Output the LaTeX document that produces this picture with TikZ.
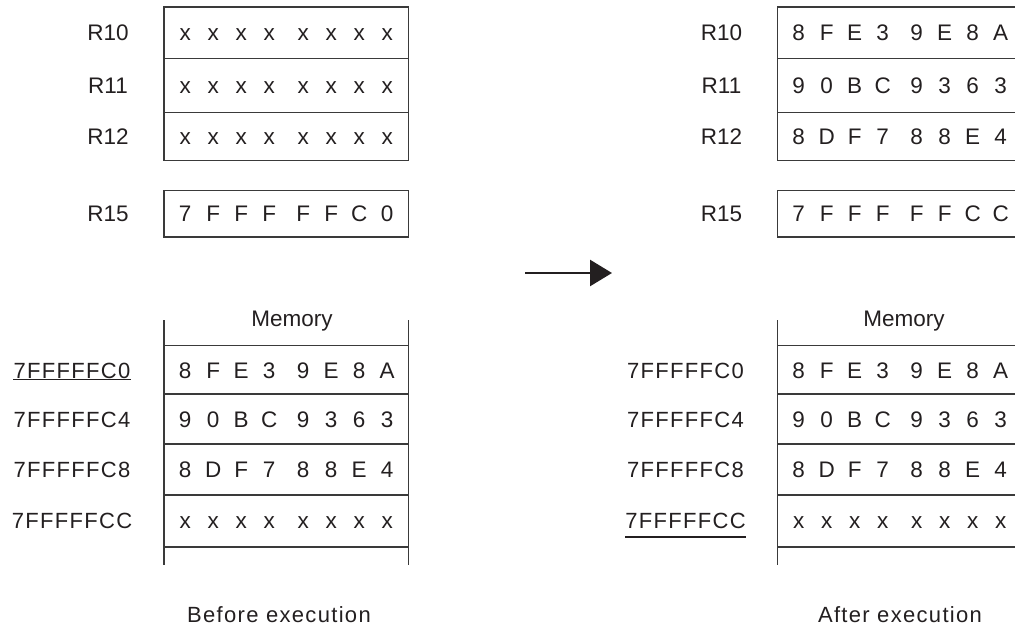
\documentclass[tikz,border=0pt]{standalone}
\usepackage{fontspec}
\setmainfont{Liberation Sans}
\newfontfamily\spacedfont[LetterSpace=6]{Liberation Sans}
\usetikzlibrary{arrows.meta}
\definecolor{ink}{HTML}{231F20}
\definecolor{rulecol}{HTML}{3A3A3A}
\newcommand\hc[1]{\makebox[28pt]{#1}}
\newcommand\hexcells[8]{\hc{#1}\hc{#2}\hc{#3}\hc{#4}\hspace{6pt}\hc{#5}\hc{#6}\hc{#7}\hc{#8}}
\begin{document}
\begin{tikzpicture}[x=1pt,y=-1pt,
  every node/.style={font=\fontsize{22.5}{26}\selectfont, text=ink, inner sep=0pt, text height=16pt, text depth=0pt},
  regcell/.style={draw=rulecol, line width=1.2pt, minimum width=244.5pt},
  memcell/.style={minimum width=244.5pt},
  memline/.style={draw=rulecol, line width=1.4pt},
  addr/.style={font=\spacedfont\fontsize{22}{26}\selectfont},
  caption/.style={font=\spacedfont\fontsize{22}{26}\selectfont},
  uline/.style={draw=ink, line width=1.2pt},
  bigarrow/.style={draw=ink, line width=2.6pt, -{Triangle[length=22pt,width=26pt]}}]
\useasboundingbox (0,0) rectangle (1015,631);

% ---------------- Before execution ----------------
\node (lr10) at (108,32.9) {R10};
\node (lr11) at (108,85.5) {R11};
\node (lr12) at (108,136.5) {R12};
\node (lr15) at (108,213.9) {R15};
\node[regcell, minimum height=51.7pt] (lc10) at (286.2,32.9) {\hexcells{x}{x}{x}{x}{x}{x}{x}{x}};
\node[regcell, minimum height=53.6pt] (lc11) at (286.2,85.5) {\hexcells{x}{x}{x}{x}{x}{x}{x}{x}};
\node[regcell, minimum height=48.4pt] (lc12) at (286.2,136.5) {\hexcells{x}{x}{x}{x}{x}{x}{x}{x}};
\node[regcell, minimum height=46.3pt] (lc15) at (286.2,213.9) {\hexcells{7}{F}{F}{F}{F}{F}{C}{0}};

\node (lmem) at (292,318) {Memory};
\node[memcell, minimum height=48.6pt] (lm0) at (286.2,370) {\hexcells{8}{F}{E}{3}{9}{E}{8}{A}};
\node[memcell, minimum height=50pt] (lm1) at (286.2,419.3) {\hexcells{9}{0}{B}{C}{9}{3}{6}{3}};
\node[memcell, minimum height=50.7pt] (lm2) at (286.2,469.65) {\hexcells{8}{D}{F}{7}{8}{8}{E}{4}};
\node[memcell, minimum height=51.7pt] (lm3) at (286.2,520.85) {\hexcells{x}{x}{x}{x}{x}{x}{x}{x}};
\draw[memline] (164,320) -- (164,565);
\draw[memline] (408.5,320) -- (408.5,565);
\foreach \m in {lm0,lm1,lm2,lm3} \draw[memline] (\m.north west) -- (\m.north east);
\draw[memline] (lm3.south west) -- (lm3.south east);

\node[addr] (la0) at (72,370) {7FFFFFC0};
\node[addr] (la1) at (72,419.3) {7FFFFFC4};
\node[addr] (la2) at (72,469.65) {7FFFFFC8};
\node[addr] (la3) at (72,520.85) {7FFFFFCC};
\draw[uline] ([yshift=-1.5pt]la0.south west) -- ([yshift=-1.5pt]la0.south east);

\node[caption] (lcap) at (279,614) {Before execution};

% ---------------- Arrow ----------------
\coordinate (as) at (525,273);
\coordinate (ae) at (612,273);
\draw[bigarrow] (as) -- (ae);

% ---------------- After execution ----------------
\node (rr10) at (721.5,32.9) {R10};
\node (rr11) at (721.5,85.5) {R11};
\node (rr12) at (721.5,136.5) {R12};
\node (rr15) at (721.5,213.9) {R15};
\node[regcell, minimum height=51.7pt] (rc10) at (899.7,32.9) {\hexcells{8}{F}{E}{3}{9}{E}{8}{A}};
\node[regcell, minimum height=53.6pt] (rc11) at (899.7,85.5) {\hexcells{9}{0}{B}{C}{9}{3}{6}{3}};
\node[regcell, minimum height=48.4pt] (rc12) at (899.7,136.5) {\hexcells{8}{D}{F}{7}{8}{8}{E}{4}};
\node[regcell, minimum height=46.3pt] (rc15) at (899.7,213.9) {\hexcells{7}{F}{F}{F}{F}{F}{C}{C}};

\node (rmem) at (904,318) {Memory};
\node[memcell, minimum height=48.6pt] (rm0) at (899.7,370) {\hexcells{8}{F}{E}{3}{9}{E}{8}{A}};
\node[memcell, minimum height=50pt] (rm1) at (899.7,419.3) {\hexcells{9}{0}{B}{C}{9}{3}{6}{3}};
\node[memcell, minimum height=50.7pt] (rm2) at (899.7,469.65) {\hexcells{8}{D}{F}{7}{8}{8}{E}{4}};
\node[memcell, minimum height=51.7pt] (rm3) at (899.7,520.85) {\hexcells{x}{x}{x}{x}{x}{x}{x}{x}};
\draw[memline] (777.5,320) -- (777.5,565);
\draw[memline] (1022,320) -- (1022,565);
\foreach \m in {rm0,rm1,rm2,rm3} \draw[memline] (\m.north west) -- (\m.north east);
\draw[memline] (rm3.south west) -- (rm3.south east);

\node[addr] (ra0) at (685.5,370) {7FFFFFC0};
\node[addr] (ra1) at (685.5,419.3) {7FFFFFC4};
\node[addr] (ra2) at (685.5,469.65) {7FFFFFC8};
\node[addr] (ra3) at (685.5,520.85) {7FFFFFCC};
\draw[uline] ([yshift=-8pt]ra3.south west) -- ([yshift=-8pt]ra3.south east);

\node[caption] (rcap) at (900,614) {After execution};
\end{tikzpicture}
\end{document}
